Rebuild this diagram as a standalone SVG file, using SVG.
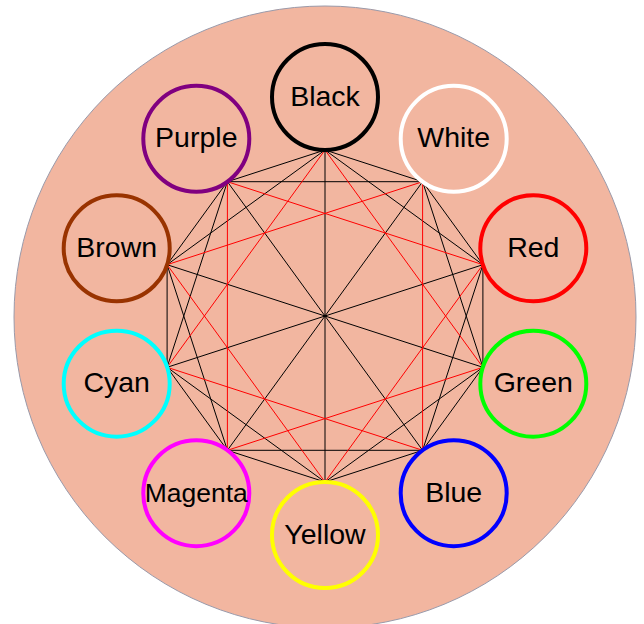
<svg xmlns="http://www.w3.org/2000/svg" width="644" height="624" viewBox="0 0 644 624">
<style>
.ring{fill:none;stroke-width:4}
.lbl{font-family:"Liberation Sans",Arial,sans-serif;font-size:28.5px;fill:#000;text-anchor:middle}
.k{stroke:#000;stroke-width:1;fill:none}
.r{stroke:#ff0000;stroke-width:1;fill:none}
</style>
<rect width="644" height="624" fill="#ffffff"/>
<circle id="background" cx="325" cy="317" r="311" fill="#f2b6a0" stroke="#9a9aaa" stroke-width="1"/>
<g id="connectors">
<g class="k">
<line x1="325" y1="150" x2="422.6" y2="181.7"/>
<line x1="422.6" y1="181.7" x2="482.9" y2="264.7"/>
<line x1="482.9" y1="264.7" x2="482.9" y2="367.3"/>
<line x1="482.9" y1="367.3" x2="422.6" y2="450.3"/>
<line x1="422.6" y1="450.3" x2="325" y2="482"/>
<line x1="325" y1="482" x2="227.4" y2="450.3"/>
<line x1="227.4" y1="450.3" x2="167.1" y2="367.3"/>
<line x1="167.1" y1="367.3" x2="167.1" y2="264.7"/>
<line x1="167.1" y1="264.7" x2="227.4" y2="181.7"/>
<line x1="227.4" y1="181.7" x2="325" y2="150"/>
<line x1="325" y1="150" x2="482.9" y2="264.7"/>
<line x1="422.6" y1="181.7" x2="482.9" y2="367.3"/>
<line x1="482.9" y1="264.7" x2="422.6" y2="450.3"/>
<line x1="482.9" y1="367.3" x2="325" y2="482"/>
<line x1="422.6" y1="450.3" x2="227.4" y2="450.3"/>
<line x1="325" y1="482" x2="167.1" y2="367.3"/>
<line x1="227.4" y1="450.3" x2="167.1" y2="264.7"/>
<line x1="167.1" y1="367.3" x2="227.4" y2="181.7"/>
<line x1="167.1" y1="264.7" x2="325" y2="150"/>
<line x1="227.4" y1="181.7" x2="422.6" y2="181.7"/>
<line x1="325" y1="150" x2="325" y2="482"/>
<line x1="422.6" y1="181.7" x2="227.4" y2="450.3"/>
<line x1="482.9" y1="264.7" x2="167.1" y2="367.3"/>
<line x1="482.9" y1="367.3" x2="167.1" y2="264.7"/>
<line x1="422.6" y1="450.3" x2="227.4" y2="181.7"/>
</g>
<g class="r">
<line x1="325" y1="150" x2="482.9" y2="367.3"/>
<line x1="422.6" y1="181.7" x2="422.6" y2="450.3"/>
<line x1="482.9" y1="264.7" x2="325" y2="482"/>
<line x1="482.9" y1="367.3" x2="227.4" y2="450.3"/>
<line x1="422.6" y1="450.3" x2="167.1" y2="367.3"/>
<line x1="325" y1="482" x2="167.1" y2="264.7"/>
<line x1="227.4" y1="450.3" x2="227.4" y2="181.7"/>
<line x1="167.1" y1="367.3" x2="325" y2="150"/>
<line x1="167.1" y1="264.7" x2="422.6" y2="181.7"/>
<line x1="227.4" y1="181.7" x2="482.9" y2="264.7"/>
</g>
</g>
<g id="node-black"><circle class="ring" cx="325" cy="97" r="53" stroke="#000000"/><text class="lbl" x="325" y="105.5">Black</text></g>
<g id="node-white"><circle class="ring" cx="453.7" cy="138.8" r="53" stroke="#ffffff"/><text class="lbl" x="453.7" y="147.3">White</text></g>
<g id="node-red"><circle class="ring" cx="533.3" cy="248.3" r="53" stroke="#ff0000"/><text class="lbl" x="533.3" y="256.8">Red</text></g>
<g id="node-green"><circle class="ring" cx="533.3" cy="383.7" r="53" stroke="#00ff00"/><text class="lbl" x="533.3" y="392.2">Green</text></g>
<g id="node-blue"><circle class="ring" cx="453.7" cy="493.2" r="53" stroke="#0000ff"/><text class="lbl" x="453.7" y="501.7">Blue</text></g>
<g id="node-yellow"><circle class="ring" cx="325" cy="535" r="53" stroke="#ffff00"/><text class="lbl" x="325" y="543.5">Yellow</text></g>
<g id="node-magenta"><circle class="ring" cx="196.3" cy="493.2" r="53" stroke="#ff00ff"/><text class="lbl" x="196.3" y="501.7" style="font-size:26.5px">Magenta</text></g>
<g id="node-cyan"><circle class="ring" cx="116.7" cy="383.7" r="53" stroke="#00ffff"/><text class="lbl" x="116.7" y="392.2">Cyan</text></g>
<g id="node-brown"><circle class="ring" cx="116.7" cy="248.3" r="53" stroke="#993300"/><text class="lbl" x="116.7" y="256.8">Brown</text></g>
<g id="node-purple"><circle class="ring" cx="196.3" cy="138.8" r="53" stroke="#800080"/><text class="lbl" x="196.3" y="147.3">Purple</text></g>
</svg>
